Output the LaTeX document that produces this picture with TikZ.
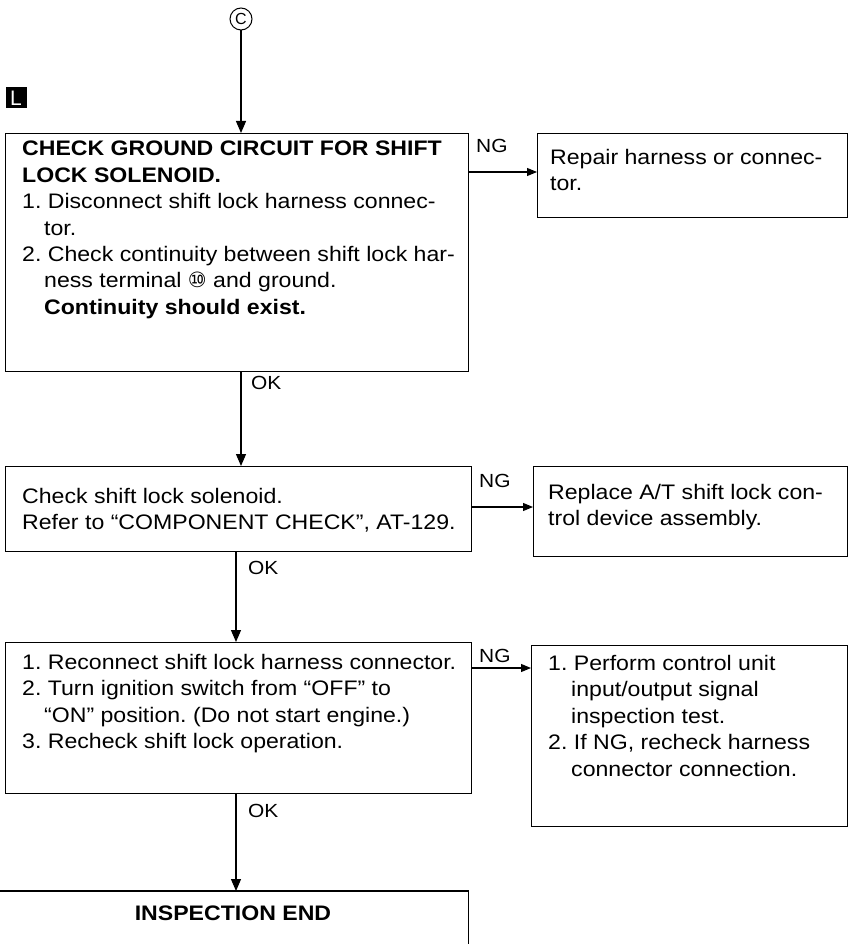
\documentclass[tikz,border=0pt]{standalone}
\usepackage{fontspec}
\setmainfont{Liberation Sans}[FakeStretch=1.1]
\newfontfamily\lblfont{Liberation Sans}
\newfontfamily\symfont{DejaVu Sans}
\usetikzlibrary{arrows.meta}
\frenchspacing
\begin{document}
\begin{tikzpicture}[x=1pt,y=-1pt,
  frame/.style={draw, line width=1.3pt, inner sep=0pt, anchor=north west},
  txt/.style={inner sep=0pt, anchor=north west, align=left, font=\frenchspacing\fontsize{21}{26.4}\selectfont},
  lbl/.style={inner sep=0pt, anchor=west, font=\fontsize{19}{21}\selectfont},
  flow/.style={line width=1.2pt, -{Triangle[length=12pt,width=10pt]}},
  ngflow/.style={line width=1.1pt, -{Triangle[length=10pt,width=8pt]}}]
\useasboundingbox (0,0) rectangle (849,944);
\fill[white] (0,0) rectangle (849,944);

% top marks
\node[circle, draw, line width=1pt, minimum size=22pt, inner sep=0pt,
      font=\lblfont\fontsize{16}{16}\selectfont] (c) at (241,19) {C};
\node[fill=black, minimum size=21pt, inner sep=0pt, text=white,
      font=\lblfont\fontsize{21}{21}\selectfont] (sq) at (16,98) {L};

% step 1
\node[frame, minimum width=463pt, minimum height=238pt] (b1) at (5,133) {};
\node[txt] (t1) at (22,141) {\textbf{CHECK GROUND CIRCUIT FOR SHIFT}\\
\textbf{LOCK SOLENOID.}\\
1. Disconnect shift lock harness connec-\\
\hspace*{22pt}tor.\\
2. Check continuity between shift lock har-\\
\hspace*{22pt}ness terminal {\symfont ⑩} and ground.\\
\hspace*{22pt}\textbf{Continuity should exist.}};

\node[frame, minimum width=310pt, minimum height=84pt] (n1) at (537,133) {};
\node[txt] (u1) at (550,149) {Repair harness or connec-\\tor.};

% step 2
\node[frame, minimum width=466pt, minimum height=85pt] (b2) at (5,466) {};
\node[txt] (t2) at (22,488) {Check shift lock solenoid.\\
Refer to “COMPONENT CHECK”, AT-129.};

\node[frame, minimum width=314pt, minimum height=90pt] (n2) at (533,466) {};
\node[txt] (u2) at (548,484) {Replace A/T shift lock con-\\
trol device assembly.};

% step 3
\node[frame, minimum width=466pt, minimum height=151pt] (b3) at (5,642) {};
\node[txt] (t3) at (22,654) {1. Reconnect shift lock harness connector.\\
2. Turn ignition switch from “OFF” to\\
\hspace*{22pt}“ON” position. (Do not start engine.)\\
3. Recheck shift lock operation.};

\node[frame, minimum width=316pt, minimum height=181pt] (n3) at (531,645) {};
\node[txt] (u3) at (548,655) {1. Perform control unit\\
\hspace*{23pt}input/output signal\\
\hspace*{23pt}inspection test.\\
2. If NG, recheck harness\\
\hspace*{23pt}connector connection.};

% end
\node[inner sep=0pt, anchor=north west, minimum width=468pt, minimum height=60pt] (b4) at (0,891) {};
\draw[line width=1.3pt] (b4.north west) -- (b4.north east) -- (b4.south east);
\node[inner sep=0pt, font=\bfseries\fontsize{21}{24}\selectfont] (t4) at (233,913) {INSPECTION END};

% connectors
\coordinate (col) at (236,0);
\draw[flow] (c) -- (c |- b1.north);
\draw[flow] (b1.south -| c) -- (b2.north -| c);
\draw[flow] (b2.south -| col) -- (b3.north -| col);
\draw[flow] (b3.south -| col) -- (b4.north -| col);

\coordinate (g1) at ([yshift=-39pt]n1.north west);
\coordinate (g2) at ([yshift=-41pt]n2.north west);
\coordinate (g3) at ([yshift=-23pt]n3.north west);
\draw[ngflow] (g1 -| b1.east) -- (g1);
\draw[ngflow] (g2 -| b2.east) -- (g2);
\draw[ngflow] (g3 -| b3.east) -- (g3);

% labels
\node[lbl] (ng1) at (476,146) {NG};
\node[lbl] (ng2) at (479,481) {NG};
\node[lbl] (ng3) at (479,656) {NG};
\node[lbl] (ok1) at (251,383) {OK};
\node[lbl] (ok2) at (248,568) {OK};
\node[lbl] (ok3) at (248,811) {OK};
\end{tikzpicture}
\end{document}
